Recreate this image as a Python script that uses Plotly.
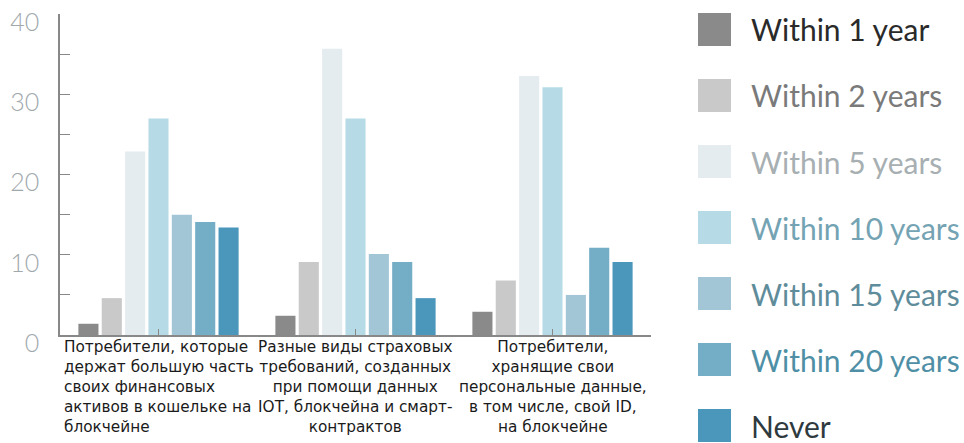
import plotly.graph_objects as go

categories = [
    "Потребители, которые<br>держат большую часть<br>своих финансовых<br>активов в кошельке на<br>блокчейне",
    "Разные виды страховых<br>требований, созданных<br>при помощи данных<br>IOT, блокчейна и смарт-<br>контрактов",
    "Потребители,<br>хранящие свои<br>персональные данные,<br>в том числе, свой ID,<br>на блокчейне",
]
label_align = ["left", "center", "center"]

series_names = ["Within 1 year", "Within 2 years", "Within 5 years", "Within 10 years",
                "Within 15 years", "Within 20 years", "Never"]
within_1 = [1.4, 2.4, 2.9]
within_2 = [4.6, 9.1, 6.8]
within_5 = [22.9, 35.7, 32.3]
within_10 = [27.0, 27.0, 30.9]
within_15 = [15.0, 10.1, 5.0]
within_20 = [14.1, 9.1, 10.9]
never = [13.4, 4.6, 9.1]
series_values = [within_1, within_2, within_5, within_10, within_15, within_20, never]

y_ticks = [0, 10, 20, 30, 40]
y_minor_ticks = [5, 15, 25, 35]

bar_colors = ["#8a8a8a", "#c9c9c9", "#e5ecf0", "#b6dbe6", "#a2c6d6", "#74adc6", "#4b97bb"]
legend_text_colors = ["#2a2a2a", "#7a7a7a", "#a7afb2", "#74a3b3", "#5f8c9a", "#4f8fa6", "#2f3a3f"]

W, H = 964, 443
ML, MR, MT, MB = 60, 313, 14, 108
PW, PH = W - ML - MR, H - MT - MB

fig = go.Figure()
xs = list(range(len(categories)))
for name, vals, col in zip(series_names, series_values, bar_colors):
    fig.add_trace(go.Bar(x=xs, y=vals, name=name, marker=dict(color=col, line=dict(width=0)),
                         showlegend=False))

# x category labels
for i, (txt, al) in enumerate(zip(categories, label_align)):
    fig.add_annotation(x=i, y=0, xref="x", yref="y", text=txt, showarrow=False,
                       xanchor="center", yanchor="top", align=al, yshift=-1,
                       font=dict(family="DejaVu Sans", size=15.3, color="#1a1a1a"))

# manual legend
def px_x(p):
    return (p - ML) / PW

def px_y(p):
    return 1 - (p - MT) / PH

leg_x0, leg_size, leg_y0, leg_step = 698, 33, 13, 66
for k, (name, col, tcol) in enumerate(zip(series_names, bar_colors, legend_text_colors)):
    top = leg_y0 + k * leg_step
    fig.add_shape(type="rect", xref="paper", yref="paper",
                  x0=px_x(leg_x0), x1=px_x(leg_x0 + leg_size),
                  y0=px_y(top + leg_size), y1=px_y(top),
                  fillcolor=col, line=dict(width=0))
    fig.add_annotation(xref="paper", yref="paper", x=px_x(749), y=px_y(top + leg_size / 2),
                       text=name, showarrow=False, xanchor="left", yanchor="middle",
                       font=dict(family="Lato", size=30, color=tcol))

fig.update_layout(
    width=W, height=H, autosize=False,
    margin=dict(l=ML, r=MR, t=MT, b=MB, pad=0),
    paper_bgcolor="white", plot_bgcolor="white",
    barmode="group", bargap=0.17, bargroupgap=0.14,
    showlegend=False,
    xaxis=dict(range=[-0.5, 2.5], tickmode="array", tickvals=xs, showticklabels=False,
               tickson="boundaries", ticks="inside", ticklen=6, tickcolor="#888",
               automargin=False,
               showline=True, linecolor="#888", linewidth=1.5, showgrid=False, zeroline=False),
    yaxis=dict(range=[0, 40.05], tickvals=y_ticks, ticks="inside", ticklen=10,
               tickcolor="#888", automargin=False,
               showline=True, linecolor="#888", linewidth=1.5, showgrid=False, zeroline=False,
               ticklabelstandoff=14, ticklabelshift=8, ticklabeloverflow="allow",
               tickfont=dict(family="Lato", size=25, color="#a0a8ac", weight=300),
               minor=dict(tickvals=y_minor_ticks, ticks="inside", ticklen=10, tickcolor="#888")),
)

fig.write_html("out.html", post_script="document.body.style.margin='0';",
               config={"displayModeBar": False})
